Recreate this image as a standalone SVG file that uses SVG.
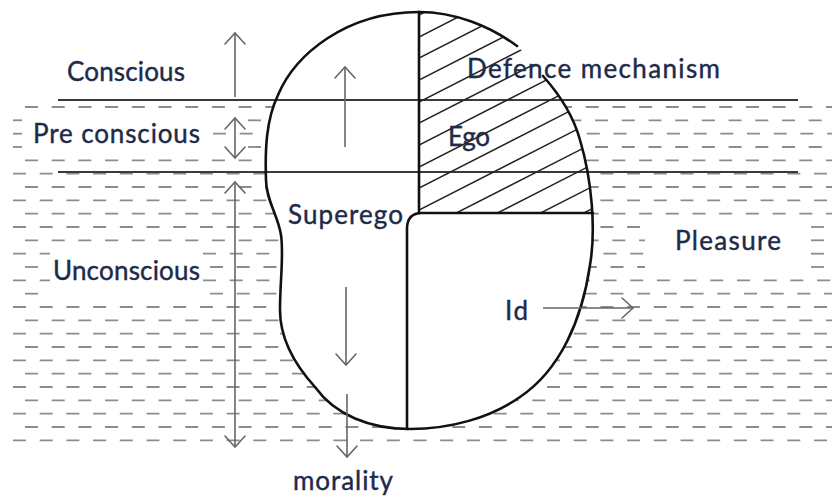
<svg xmlns="http://www.w3.org/2000/svg" width="832" height="499" viewBox="0 0 832 499">
<style>
.dash{stroke:#8c8c8c;stroke-width:1.8;stroke-dasharray:13 13.7;fill:none}
.lvl{stroke:#3a3a3a;stroke-width:1.8;fill:none}
.ol{stroke:#111;stroke-width:2.6;fill:none;stroke-linecap:round}
.hat{stroke:#222;stroke-width:1.5}
.arr{stroke:#666;stroke-width:1.6;fill:none}
.t{font-family:Lato,"Open Sans",sans-serif;font-size:26px;fill:#1d2a4a;stroke:#1d2a4a;stroke-width:0.4}
</style>
<defs>
<marker id="ah" viewBox="-13 -12 15 24" refX="0" refY="0" markerWidth="15" markerHeight="24" markerUnits="userSpaceOnUse" orient="auto-start-reverse">
<path d="M-11,-10 L0,0 L-11,10" fill="none" stroke="#666" stroke-width="1.6" stroke-linecap="round"/>
</marker>
<clipPath id="egoClip">
<path d="M419,12 C455,12 490,26 517,46 C527,55 536,66 543,76 C560,95 574,118 580,140 C589,170 593,195 593,213 L419,213 Z"/>
</clipPath>
</defs>
<rect width="832" height="499" fill="#fff"/>

<g id="water">
<line class="dash" x1="25" y1="107" x2="832" y2="107"/>
<line class="dash" x1="13" y1="120.3" x2="22" y2="120.3"/>
<line class="dash" x1="248" y1="120.3" x2="832" y2="120.3"/>
<line class="dash" x1="13" y1="133.7" x2="22" y2="133.7"/>
<line class="dash" x1="213" y1="133.7" x2="832" y2="133.7"/>
<line class="dash" x1="13" y1="147" x2="22" y2="147"/>
<line class="dash" x1="248" y1="147" x2="832" y2="147"/>
<line class="dash" x1="25" y1="160.3" x2="832" y2="160.3"/>
<line class="dash" x1="13" y1="173.7" x2="832" y2="173.7"/>
<line class="dash" x1="25" y1="187" x2="832" y2="187"/>
<line class="dash" x1="13" y1="200.3" x2="832" y2="200.3"/>
<line class="dash" x1="25" y1="213.7" x2="832" y2="213.7"/>
<line class="dash" x1="13" y1="227" x2="645" y2="227"/>
<line class="dash" x1="811" y1="227" x2="832" y2="227"/>
<line class="dash" x1="25" y1="240.3" x2="645" y2="240.3"/>
<line class="dash" x1="811" y1="240.3" x2="832" y2="240.3"/>
<line class="dash" x1="13" y1="253.7" x2="50" y2="253.7"/>
<line class="dash" x1="203" y1="253.7" x2="645" y2="253.7"/>
<line class="dash" x1="811" y1="253.7" x2="832" y2="253.7"/>
<line class="dash" x1="25" y1="267" x2="38" y2="267"/>
<line class="dash" x1="210" y1="267" x2="645" y2="267"/>
<line class="dash" x1="811" y1="267" x2="832" y2="267"/>
<line class="dash" x1="13" y1="280.3" x2="50" y2="280.3"/>
<line class="dash" x1="203" y1="280.3" x2="832" y2="280.3"/>
<line class="dash" x1="25" y1="293.7" x2="38" y2="293.7"/>
<line class="dash" x1="210" y1="293.7" x2="832" y2="293.7"/>
<line class="dash" x1="13" y1="307" x2="832" y2="307"/>
<line class="dash" x1="25" y1="320.3" x2="832" y2="320.3"/>
<line class="dash" x1="13" y1="333.7" x2="832" y2="333.7"/>
<line class="dash" x1="25" y1="347" x2="832" y2="347"/>
<line class="dash" x1="13" y1="360.3" x2="832" y2="360.3"/>
<line class="dash" x1="25" y1="373.7" x2="832" y2="373.7"/>
<line class="dash" x1="13" y1="387" x2="832" y2="387"/>
<line class="dash" x1="25" y1="400.3" x2="832" y2="400.3"/>
<line class="dash" x1="13" y1="413.7" x2="832" y2="413.7"/>
<line class="dash" x1="25" y1="427" x2="832" y2="427"/>
<line class="dash" x1="13" y1="440.3" x2="832" y2="440.3"/>
</g>

<g id="bean">
<path fill="#fff" d="M419,12 C455,12 490,26 517,46 C527,55 536,66 543,76 C560,95 574,118 580,140 C592,180 596,230 590,265 C582,320 560,370 520,397 C490,418 450,429 410,429 C370,429 335,415 315,387 C295,365 280,340 280,310 C280,280 284,255 281,235 C278,215 266,200 266,180 C265,150 266,120 278,95 C295,55 345,12 419,12 Z"/>
</g>

<g id="levels">
<line class="lvl" x1="58" y1="100" x2="798" y2="100"/>
<line class="lvl" x1="58" y1="172" x2="798" y2="172"/>
</g>

<g id="ego">
<g clip-path="url(#egoClip)">
<line class="hat" x1="419" y1="15" x2="620" y2="-87.5"/>
<line class="hat" x1="419" y1="37" x2="620" y2="-65.5"/>
<line class="hat" x1="419" y1="58" x2="620" y2="-44.5"/>
<line class="hat" x1="419" y1="80" x2="620" y2="-22.5"/>
<line class="hat" x1="419" y1="102" x2="620" y2="-0.5"/>
<line class="hat" x1="419" y1="123" x2="620" y2="20.5"/>
<line class="hat" x1="419" y1="145" x2="620" y2="42.5"/>
<line class="hat" x1="419" y1="167" x2="620" y2="64.5"/>
<line class="hat" x1="419" y1="188" x2="620" y2="85.5"/>
<line class="hat" x1="419" y1="210" x2="620" y2="107.5"/>
<line class="hat" x1="419" y1="232" x2="620" y2="129.5"/>
<line class="hat" x1="419" y1="253" x2="620" y2="150.5"/>
<line class="hat" x1="419" y1="275" x2="620" y2="172.5"/>
<line class="hat" x1="419" y1="297" x2="620" y2="194.5"/>
</g>
<line class="ol" x1="419" y1="12" x2="419" y2="213"/>
</g>

<g id="outline">
<path class="ol" d="M419,12 C455,12 490,26 517,46"/>
<path class="ol" d="M543,76 C560,95 574,118 580,140 C592,180 596,230 590,265 C582,320 560,370 520,397 C490,418 450,429 410,429 C370,429 335,415 315,387 C295,365 280,340 280,310 C280,280 284,255 281,235 C278,215 266,200 266,180 C265,150 266,120 278,95 C295,55 345,12 419,12"/>
</g>

<g id="id-region">
<path class="ol" d="M407,429 L407,229 Q407,213 422,213 L593,213"/>
</g>

<g id="connectors">
<path class="arr" d="M235,97 L235,33" marker-end="url(#ah)"/>
<path class="arr" d="M235,118 L235,158" marker-start="url(#ah)" marker-end="url(#ah)"/>
<path class="arr" d="M235,182 L235,447" marker-start="url(#ah)" marker-end="url(#ah)"/>
<path class="arr" d="M345,147 L345,67" marker-end="url(#ah)"/>
<path class="arr" d="M346,287 L346,365" marker-end="url(#ah)"/>
<path class="arr" d="M347,394 L347,457" marker-end="url(#ah)"/>
<path class="arr" d="M543,308 L633,308" marker-end="url(#ah)"/>
</g>

<g id="labels">
<g id="conscious"><text class="t" x="67" y="81" textLength="118">Conscious</text></g>
<g id="preconscious"><text class="t" x="33" y="143" textLength="167">Pre conscious</text></g>
<g id="unconscious"><text class="t" x="53" y="280" textLength="147">Unconscious</text></g>
<g id="superego"><text class="t" x="288" y="224" textLength="115">Superego</text></g>
<g id="defence"><text class="t" x="467" y="78" textLength="253">Defence mechanism</text></g>
<g id="ego-label"><text class="t" x="448" y="146" textLength="42">Ego</text></g>
<g id="pleasure"><text class="t" x="675" y="250" textLength="106">Pleasure</text></g>
<g id="id-label"><text class="t" x="505" y="320" textLength="23">Id</text></g>
<g id="morality"><text class="t" x="293" y="490" textLength="100">morality</text></g>
</g>
</svg>
